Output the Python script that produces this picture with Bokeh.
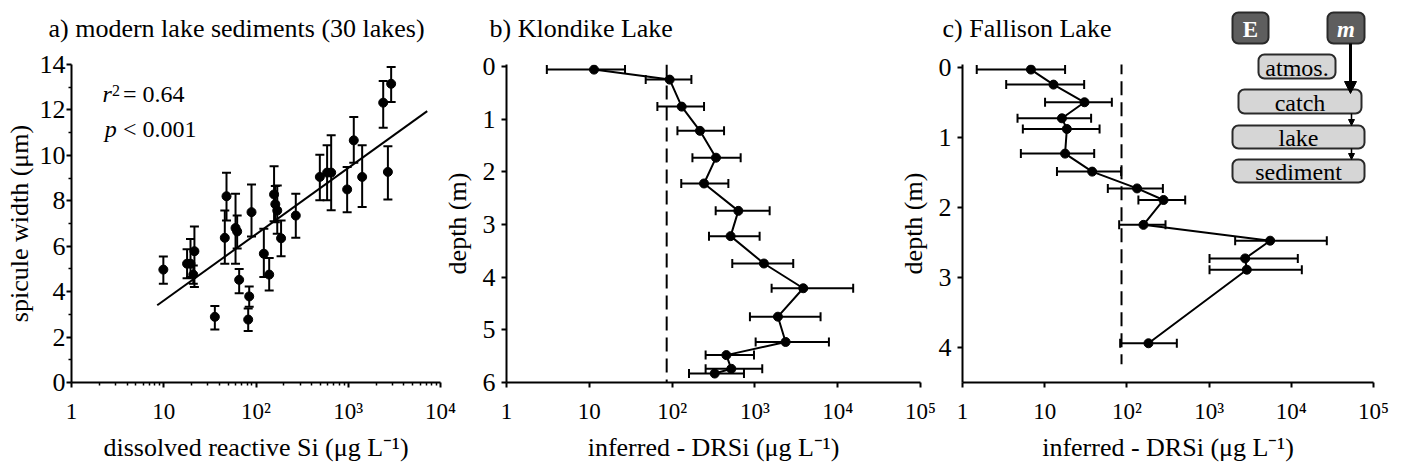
from bokeh.plotting import figure
from bokeh.models import (Range1d, FixedTicker, Whisker, TeeHead, ColumnDataSource,
                          Label, Arrow, NormalHead)
from bokeh.layouts import row, column
from bokeh.core.properties import value
from bokeh.embed import file_html
from bokeh.resources import INLINE

FONT = "Liberation Serif"

# ---------------- data: a) modern lake sediments ----------------
a_si = [9.9, 17.9, 19.5, 20.9, 21.5, 35.8, 45.9, 47.9, 60, 62.5, 65.7, 84.4, 82.3, 89.4,
        121.6, 139, 157, 162, 170, 187, 270, 492, 590, 653, 973, 1148, 1415, 2393, 2690, 2918]
a_width = [4.97, 5.23, 5.23, 4.75, 5.78, 2.89, 6.37, 8.2, 6.8, 6.65, 4.52, 3.79, 2.77, 7.5,
           5.67, 4.75, 8.28, 7.85, 7.57, 6.35, 7.35, 9.05, 9.24, 9.24, 8.5, 10.66, 9.05, 12.32, 9.27, 13.15]
a_upper = [5.55, 5.87, 6.32, 5.15, 6.87, 3.37, 7.57, 9.23, 8.31, 7.35, 5.0, 4.23, 3.26, 8.72,
           6.77, 5.48, 9.52, 8.65, 8.67, 7.13, 8.31, 10.03, 10.44, 10.88, 9.49, 11.69, 10.44, 13.27, 10.4, 13.89]
a_lower = [4.35, 4.59, 4.64, 4.35, 4.2, 2.33, 5.23, 7.13, 5.23, 5.9, 3.93, 3.33, 2.27, 6.43,
           4.64, 4.05, 7.1, 7.05, 6.55, 5.56, 6.37, 8.02, 8.02, 7.58, 7.5, 9.68, 7.73, 11.22, 8.06, 12.35]
a_fit_x = [8.5, 7180]
a_fit_y = [3.4, 11.95]

# ---------------- data: b) Klondike Lake ----------------
b_depth = [0.057, 0.247, 0.76, 1.22, 1.73, 2.22, 2.74, 3.22, 3.74, 4.21, 4.75, 5.23, 5.48, 5.74, 5.83]
b_si = [11.4, 93.5, 130.6, 217, 339, 243, 631, 509, 1285, 3837, 1897, 2350, 452, 519, 327]
b_lo = [3.07, 48, 66.4, 116, 176, 129, 336, 279, 533, 1592, 871, 1021, 254, 254, 160]
b_hi = [27, 171, 243, 424, 673, 478, 1507, 1140, 2904, 15380, 6209, 7834, 975, 1227, 738]

# ---------------- data: c) Fallison Lake ----------------
c_depth = [0.033, 0.248, 0.5, 0.729, 0.881, 1.233, 1.49, 1.73, 1.895, 2.25, 2.476, 2.729, 2.89, 3.94]
c_si = [6.8, 12.8, 30.5, 16.2, 18.6, 17.7, 37.8, 133, 279, 159, 5530, 2746, 2877, 183]
c_lo = [1.49, 3.4, 10.1, 4.67, 5.42, 5.13, 14.1, 58.6, 138, 80.5, 2075, 1012, 1012, 82.8]
c_hi = [17.7, 30.2, 65.6, 36.7, 46.5, 40, 85.1, 274, 512, 295, 27040, 12000, 13430, 405]

drsi_threshold = 86
c_dash_top, c_dash_bottom = -0.1, 4.24

panel_titles = ["a) modern lake sediments (30 lakes)", "b) Klondike Lake", "c) Fallison Lake"]

log_ticks_a = [1, 10, 100, 1000, 10000]
log_labels_a = ["1", "10", "10\u00b2", "10\u00b3", "10\u2074"]
log_ticks_bc = [1, 10, 100, 1000, 10000, 100000]
log_labels_bc = ["1", "10", "10\u00b2", "10\u00b3", "10\u2074", "10\u2075"]

W, H = 1406, 469
MARKER = 9


def style_axes(p, ystand, ylab_stand, xstand=11, xlab_stand=6):
    for ax in p.axis:
        ax.axis_line_width = 2
        ax.axis_line_color = "black"
        ax.major_tick_line_width = 2
        ax.major_tick_line_color = "black"
        ax.minor_tick_line_color = "black"
        ax.major_tick_in = 0
        ax.major_tick_out = 5
        ax.minor_tick_in = 0
        ax.minor_tick_out = 3
        ax.minor_tick_line_width = 1.5
        ax.major_label_text_font = FONT
        ax.major_label_text_color = "black"
        ax.axis_label_text_font = FONT
        ax.axis_label_text_font_style = "normal"
        ax.axis_label_text_font_size = "26px"
        ax.axis_label_text_color = "black"
    p.xaxis.major_label_text_font_size = "23px"
    p.yaxis.major_label_text_font_size = "26px"
    p.xaxis.major_label_standoff = xstand
    p.xaxis.axis_label_standoff = xlab_stand
    p.yaxis.major_label_standoff = ystand
    p.yaxis.axis_label_standoff = ylab_stand
    p.grid.visible = False
    p.outline_line_color = None


def whisker(src, base, upper, lower, dim):
    return Whisker(source=src, base=base, upper=upper, lower=lower, dimension=dim,
                   line_width=2, line_color="black",
                   upper_head=TeeHead(size=9, line_width=2, line_color="black"),
                   lower_head=TeeHead(size=9, line_width=2, line_color="black"))


common = dict(output_backend="svg", toolbar_location=None, x_axis_type="log", title=None,
              background_fill_color=None, border_fill_color=None)

# ================= panel a =================
pa = figure(width=470, height=H, x_range=Range1d(1, 1e4), y_range=Range1d(0, 14),
            min_border_left=71, min_border_right=30, min_border_top=64, min_border_bottom=87,
            **common)
pa.xaxis.ticker = FixedTicker(ticks=log_ticks_a,
                              minor_ticks=[m * d for d in [1, 10, 100, 1000] for m in range(2, 10)])
pa.xaxis.major_label_overrides = dict(zip(log_ticks_a, log_labels_a))
pa.yaxis.ticker = FixedTicker(ticks=list(range(0, 15, 2)), minor_ticks=list(range(1, 14, 2)))
pa.xaxis.axis_label = "dissolved reactive Si (\u03bcg L\u207b\u00b9)"
pa.yaxis.axis_label = "spicule width (\u03bcm)"
style_axes(pa, ystand=1, ylab_stand=3)

src_a = ColumnDataSource(dict(x=a_si, y=a_width, up=a_upper, lo=a_lower))
pa.add_layout(whisker(src_a, "x", "up", "lo", "height"))
pa.line(a_fit_x, a_fit_y, line_width=2, line_color="black")
pa.scatter("x", "y", source=src_a, marker="circle", size=MARKER, fill_color="black", line_color="black")

pa.add_layout(Label(x=2.17, y=12.11, text="r", text_font=FONT, text_font_size="24px",
                    text_font_style="italic", text_color="black"))
pa.add_layout(Label(x=2.74, y=12.6, text="2", text_font=FONT, text_font_size="16px",
                    text_color="black"))
pa.add_layout(Label(x=3.62, y=12.11, text="= 0.64", text_font=FONT, text_font_size="24px",
                    text_color="black"))
pa.add_layout(Label(x=2.3, y=10.57, text="p", text_font=FONT, text_font_size="24px",
                    text_font_style="italic", text_color="black"))
pa.add_layout(Label(x=3.62, y=10.57, text="< 0.001", text_font=FONT, text_font_size="24px",
                    text_color="black"))

# ================= panel b =================
pb = figure(width=514, height=H, x_range=Range1d(1, 1e5), y_range=Range1d(6, -0.04),
            min_border_left=70, min_border_right=30, min_border_top=64, min_border_bottom=87,
            **common)
pb.xaxis.ticker = FixedTicker(ticks=log_ticks_bc, minor_ticks=[])
pb.xaxis.major_label_overrides = dict(zip(log_ticks_bc, log_labels_bc))
pb.yaxis.ticker = FixedTicker(ticks=[0, 1, 2, 3, 4, 5, 6], minor_ticks=[])
pb.xaxis.axis_label = "inferred - DRSi (\u03bcg L\u207b\u00b9)"
pb.yaxis.axis_label = "depth (m)"
style_axes(pb, ystand=6, ylab_stand=8)

src_b = ColumnDataSource(dict(x=b_si, y=b_depth, lo=b_lo, hi=b_hi))
pb.segment(x0=[drsi_threshold], y0=[-0.04], x1=[drsi_threshold], y1=[6],
           line_width=2, line_color="black", line_dash="14 7")
pb.add_layout(whisker(src_b, "y", "hi", "lo", "width"))
pb.line("x", "y", source=src_b, line_width=2, line_color="black")
pb.scatter("x", "y", source=src_b, marker="circle", size=MARKER, fill_color="black", line_color="black")

# ================= panel c =================
pc = figure(width=514, height=H, x_range=Range1d(1, 1e5), y_range=Range1d(4.5, -0.039),
            min_border_left=70, min_border_right=33, min_border_top=64, min_border_bottom=87,
            **common)
pc.xaxis.ticker = FixedTicker(ticks=log_ticks_bc, minor_ticks=[])
pc.xaxis.major_label_overrides = dict(zip(log_ticks_bc, log_labels_bc))
pc.yaxis.ticker = FixedTicker(ticks=[0, 1, 2, 3, 4], minor_ticks=[])
pc.xaxis.axis_label = "inferred - DRSi (\u03bcg L\u207b\u00b9)"
pc.yaxis.axis_label = "depth (m)"
style_axes(pc, ystand=6, ylab_stand=8)

src_c = ColumnDataSource(dict(x=c_si, y=c_depth, lo=c_lo, hi=c_hi))
pc.segment(x0=[drsi_threshold], y0=[c_dash_top], x1=[drsi_threshold], y1=[c_dash_bottom],
           line_width=2, line_color="black", line_dash="14 7")
pc.add_layout(whisker(src_c, "y", "hi", "lo", "width"))
pc.line("x", "y", source=src_c, line_width=2, line_color="black")
pc.scatter("x", "y", source=src_c, marker="circle", size=MARKER, fill_color="black", line_color="black")

# ================= overlay: panel titles + schematic (pixel coordinates, y down) =================
OH = 190
overlay = figure(width=W, height=OH, x_range=Range1d(0, W), y_range=Range1d(OH, 0),
                 x_axis_type=None, y_axis_type=None, title=None,
                 min_border_left=0, min_border_right=0, min_border_top=0, min_border_bottom=0,
                 output_backend="svg", toolbar_location=None,
                 background_fill_color=None, border_fill_color=None, outline_line_color=None)
overlay.text(x=[48, 489, 942], y=[28, 28, 28], text=panel_titles, text_font=value(FONT),
             text_font_size=value("26px"), text_color="black",
             text_align="left", text_baseline="alphabetic")

# boxes: (left, right, top, bottom) in px
dark_boxes = [(1232, 1268, 12, 43, "E", "bold"),
              (1327, 1364, 12, 43, "m", "bold italic")]
light_boxes = [(1258, 1335, 54, 78, "atmos."),
               (1238, 1361, 89, 113, "catch"),
               (1232, 1364, 125, 148, "lake"),
               (1232, 1364, 159, 182, "sediment")]
for l, r, t, b, txt, style in dark_boxes:
    overlay.quad(left=[l], right=[r], top=[t], bottom=[b], fill_color="#5e5e5e",
                 line_color="#2a2a2a", line_width=2, border_radius=6)
    overlay.text(x=[(l + r) / 2], y=[(t + b) / 2 + 1], text=[txt], text_font=value(FONT),
                 text_font_size=value("23px"), text_font_style=style, text_color="white",
                 text_align="center", text_baseline="middle")
for l, r, t, b, txt in light_boxes:
    overlay.quad(left=[l], right=[r], top=[t], bottom=[b], fill_color="#d6d6d6",
                 line_color="#2a2a2a", line_width=2, border_radius=6)
    overlay.text(x=[(l + r) / 2], y=[(t + b) / 2 + 1], text=[txt], text_font=value(FONT),
                 text_font_size=value("24px"), text_color="black",
                 text_align="center", text_baseline="middle")
overlay.add_layout(Arrow(x_start=1350, y_start=43, x_end=1350, y_end=93,
                         line_width=3, line_color="black",
                         end=NormalHead(size=12, fill_color="black", line_color="black")))
for y0, y1 in [(113, 125), (148, 159)]:
    overlay.add_layout(Arrow(x_start=1351, y_start=y0, x_end=1351, y_end=y1,
                             line_width=1.5, line_color="black",
                             end=NormalHead(size=6, fill_color="black", line_color="black")))

pb.margin = (0, 0, 0, -34)
pc.margin = (0, 0, 0, -58)
panels = row(pa, pb, pc)
panels.margin = (-OH, 0, 0, 0)

layout = column(row(overlay), panels)
open("out.html", "w").write(file_html(layout, INLINE))
